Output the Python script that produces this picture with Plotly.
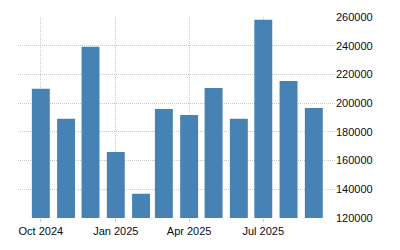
import plotly.graph_objects as go

months = ["2024-10-01", "2024-11-01", "2024-12-01", "2025-01-01", "2025-02-01", "2025-03-01",
          "2025-04-01", "2025-05-01", "2025-06-01", "2025-07-01", "2025-08-01", "2025-09-01"]
values = [210000, 189200, 239200, 166000, 136900, 196000,
          191800, 210600, 189200, 258000, 215500, 196700]
y_ticks = [120000, 140000, 160000, 180000, 200000, 220000, 240000, 260000]

fig = go.Figure(go.Bar(
    x=months, y=values,
    width=22 * 86400000,
    marker=dict(color="#4682B4", line=dict(width=0)),
))

fig.update_layout(
    width=400, height=250,
    margin=dict(l=18, r=65, t=17, b=32),
    paper_bgcolor="white", plot_bgcolor="white",
    showlegend=False,
    font=dict(family="Liberation Sans, Arial, sans-serif", size=11, color="#0a0a1a"),
    xaxis=dict(
        type="date",
        range=["2024-09-03", "2025-09-27"],
        tick0="2024-10-01", dtick="M3", tickformat="%b %Y",
        showgrid=True, gridcolor="#c8c8c8", griddash="1px,1px", gridwidth=1,
        ticks="outside", ticklen=3, tickcolor="#c8c8c8",
        showline=False, zeroline=False,
    ),
    yaxis=dict(
        side="right",
        range=[120000, 260000],
        tickvals=y_ticks, tickformat="d",
        showgrid=True, gridcolor="#c8c8c8", griddash="1px,1px", gridwidth=1,
        ticks="", showline=False, zeroline=False,
    ),
)

fig.write_html("out.html")
